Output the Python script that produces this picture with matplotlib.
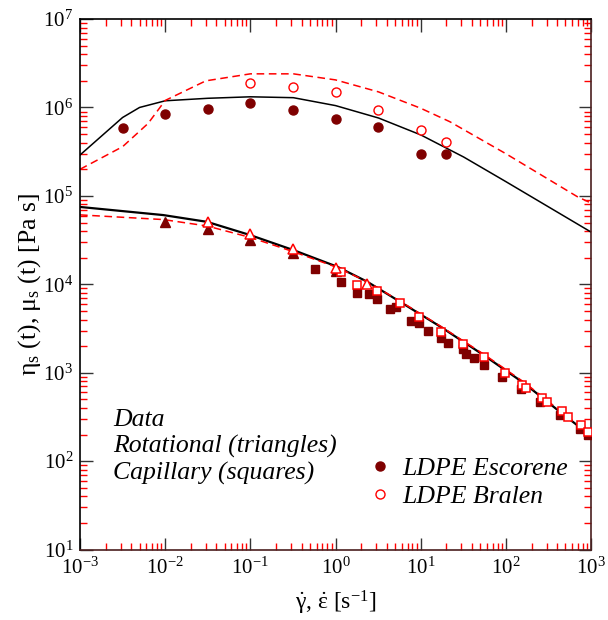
import numpy as np
import matplotlib
matplotlib.use("Agg")
import matplotlib.pyplot as plt
from matplotlib.ticker import LogLocator, NullFormatter

plt.rcParams['font.family'] = ['Liberation Serif', 'DejaVu Serif']
plt.rcParams['mathtext.fontset'] = 'custom'
plt.rcParams['mathtext.rm'] = 'Liberation Serif'
plt.rcParams['mathtext.it'] = 'Liberation Serif:italic'
plt.rcParams['mathtext.bf'] = 'Liberation Serif:bold'
plt.rcParams['axes.unicode_minus'] = False

# --- model curves: extensional (upper) ---
ext_x = [1e-3, 3.16e-3, 5e-3, 1e-2, 3.16e-2, 0.1, 0.32, 1.0, 3.2, 10, 32, 100, 1000]
ext_black = [2.9e5, 7.7e5, 1.0e6, 1.19e6, 1.27e6, 1.32e6, 1.29e6, 1.05e6, 7.6e5, 4.9e5, 2.75e5, 1.45e5, 3.9e4]
ext_red_x = [1e-3, 3.16e-3, 6.3e-3, 1e-2, 3.0e-2, 0.1, 0.32, 1.0, 3.2, 10, 22, 100, 690, 1000]
ext_red = [2.0e5, 3.6e5, 6.6e5, 1.2e6, 2.0e6, 2.4e6, 2.4e6, 2.05e6, 1.5e6, 9.8e5, 6.9e5, 3.0e5, 9.8e4, 8.3e4]

# --- model curves: shear (lower) ---
sh_x = [1e-3, 9.5e-3, 3.1e-2, 0.1, 0.32, 1.05, 2.36, 5.8, 17.2, 55, 164, 407, 910, 1000]
sh_black = [7.5e4, 6.07e4, 5.09e4, 3.6e4, 2.44e4, 1.58e4, 1.07e4, 6.3e3, 3.3e3, 1.58e3, 7.6e2, 3.78e2, 2.07e2, 1.95e2]
sh_red = [6.1e4, 5.4e4, 4.57e4, 3.39e4, 2.34e4, 1.55e4, 1.07e4, 6.4e3, 3.35e3, 1.62e3, 7.8e2, 3.9e2, 2.12e2, 2.0e2]

# --- extensional data (circles) ---
esc_ext_x = [3.16e-3, 1e-2, 3.16e-2, 0.1, 0.316, 1.0, 3.16, 10, 20]
esc_ext_y = [5.9e5, 8.5e5, 9.7e5, 1.12e6, 9.3e5, 7.4e5, 6.0e5, 2.95e5, 2.95e5]
bra_ext_x = [0.1, 0.316, 1.0, 3.16, 10, 20]
bra_ext_y = [1.87e6, 1.7e6, 1.48e6, 9.4e5, 5.5e5, 4.1e5]

# --- rotational data (triangles) ---
esc_rot_x = [0.01, 0.032, 0.1, 0.32, 1.0]
esc_rot_y = [5.1e4, 4.2e4, 3.2e4, 2.27e4, 1.4e4]
bra_rot_x = [0.032, 0.1, 0.32, 1.0, 2.36]
bra_rot_y = [5.1e4, 3.7e4, 2.5e4, 1.54e4, 1.02e4]

# --- capillary data (squares) ---
esc_cap_x = [0.58, 1.17, 1.8, 2.47, 3.03, 4.35, 5.1, 7.6, 9.5, 12.3, 17.2, 20.8,
             31, 34, 41.7, 54.7, 91, 150, 254, 437, 748, 910]
esc_cap_y = [1.5e4, 1.05e4, 7.9e3, 7.7e3, 6.8e3, 5.3e3, 5.5e3, 3.8e3, 3.7e3, 2.95e3, 2.5e3, 2.16e3,
             1.84e3, 1.65e3, 1.45e3, 1.24e3, 9.0e2, 6.5e2, 4.7e2, 3.3e2, 2.3e2, 1.97e2]
bra_cap_x = [1.17, 1.8, 3.03, 5.66, 9.5, 17.2, 31, 54.7, 98, 154, 173, 263, 303, 452, 541, 760, 930]
bra_cap_y = [1.38e4, 9.8e3, 8.4e3, 6.1e3, 4.3e3, 2.9e3, 2.14e3, 1.51e3, 1.0e3, 7.25e2, 6.8e2,
             5.2e2, 4.7e2, 3.7e2, 3.2e2, 2.6e2, 2.14e2]

notes = ['Data', 'Rotational (triangles)', 'Capillary (squares)']
notes_y = [0.233, 0.182, 0.132]

dark = '#7f0000'
red = '#ff0000'

fig = plt.figure(figsize=(6.08, 6.20), dpi=100)
ax = fig.add_axes([0.1316, 0.1135, 0.8405, 0.8558])

ax.plot(ext_x, ext_black, color='black', lw=1.1, zorder=2)
ax.plot(ext_red_x, ext_red, color=red, lw=1.1, ls=(0, (5, 3)), zorder=2)
ax.plot(sh_x, sh_black, color='black', lw=1.6, zorder=2)
ax.plot(sh_x, sh_red, color=red, lw=1.1, ls=(0, (5, 3)), zorder=2)

ax.plot(esc_cap_x, esc_cap_y, ls='none', marker='s', ms=6.2, mfc=dark, mec=dark, zorder=3)
ax.plot(bra_cap_x, bra_cap_y, ls='none', marker='s', ms=6.2, mfc='white', mec=red, mew=1.1, zorder=4)
ax.plot(esc_rot_x, esc_rot_y, ls='none', marker='^', ms=6.5, mfc=dark, mec=dark, zorder=3)
ax.plot(bra_rot_x, bra_rot_y, ls='none', marker='^', ms=6.5, mfc='white', mec=red, mew=1.1, zorder=4)
ax.plot(esc_ext_x, esc_ext_y, ls='none', marker='o', ms=6.5, mfc=dark, mec=dark,
        zorder=3, label='LDPE Escorene')
ax.plot(bra_ext_x, bra_ext_y, ls='none', marker='o', ms=6.5, mfc='white', mec=red, mew=1.0,
        zorder=3, label='LDPE Bralen')

ax.set_xscale('log')
ax.set_yscale('log')
ax.set_xlim(1e-3, 1e3)
ax.set_ylim(1e1, 1e7)

for a in (ax.xaxis, ax.yaxis):
    a.set_major_locator(LogLocator(base=10, numticks=20))
    a.set_minor_locator(LogLocator(base=10, subs=np.arange(2, 10), numticks=20))
    a.set_minor_formatter(NullFormatter())

ax.tick_params(which='major', direction='in', length=9, width=1.0, color='#333333',
               labelsize=15, top=True, right=True, pad=6)
ax.tick_params(which='minor', direction='in', length=4.7, width=1.0, color=red,
               top=True, right=True)
ax.tick_params(axis='y', which='major', pad=5)

ax.spines['left'].set_color('black')
ax.spines['top'].set_color('black')
ax.spines['right'].set_color('#4a1f1f')
ax.spines['bottom'].set_color('#4a1f1f')
for s in ax.spines.values():
    s.set_linewidth(1.2)

ax.set_xlabel(r'$\dot{\mathrm{\gamma}}$, $\dot{\mathrm{\varepsilon}}$ [s$^{\mathrm{-1}}$]',
              fontsize=17, labelpad=7)
ax.set_ylabel('η$_\\mathrm{s}$ (t), μ$_\\mathrm{s}$ (t) [Pa s]', fontsize=18.5, labelpad=0)

for t, yy in zip(notes, notes_y):
    ax.text(0.065, yy, t, transform=ax.transAxes, fontsize=18.5, style='italic', va='baseline')

leg = ax.legend(loc='upper left', bbox_to_anchor=(0.567, 0.175), frameon=False,
                prop={'size': 18.5, 'style': 'italic'}, handlelength=0.8,
                handletextpad=0.45, labelspacing=0.22, borderpad=0, borderaxespad=0)

fig.savefig('out.png', dpi=100)
